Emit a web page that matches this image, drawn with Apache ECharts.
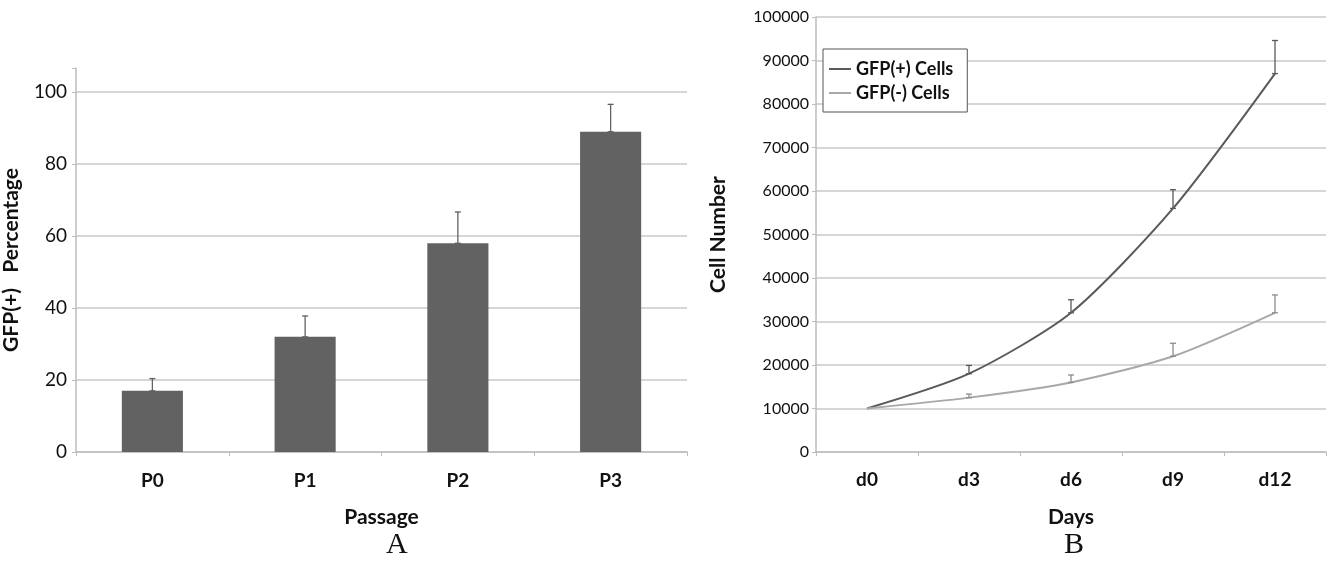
<!DOCTYPE html>
<html>
<head>
<meta charset="utf-8">
<script src="https://cdn.jsdelivr.net/npm/echarts@6/dist/echarts.min.js"></script>
<style>
  html, body { margin: 0; padding: 0; background: #fff; }
  #chart { width: 1330px; height: 568px; }
</style>
</head>
<body>
<div id="chart"></div>
<script>
// panel A
const passages = ['P0', 'P1', 'P2', 'P3'];
const gfpPercent = [17, 32, 58, 89];
const gfpPercentErr = [3.4, 5.8, 8.7, 7.6];

// panel B
const days = ['d0', 'd3', 'd6', 'd9', 'd12'];
const gfpPosCells = [10000, 18000, 32000, 56000, 87000];
const gfpPosErr = [0, 1900, 3000, 4300, 7600];
const gfpNegCells = [10000, 12500, 16000, 22000, 32000];
const gfpNegErr = [0, 800, 1700, 3000, 4100];

const FONT = 'Lato, "Open Sans", sans-serif';
const TXT = '#111';
const GRID_COLOR = '#c9c9c9';

function errData(vals, errs) {
    return vals.map((v, i) => [i, v, v + errs[i]]);
}

function errRender(color, cap) {
    return function (params, api) {
        const x = api.value(0);
        const lo = api.coord([x, api.value(1)]);
        const hi = api.coord([x, api.value(2)]);
        if (hi[1] >= lo[1] - 0.5) return null;
        const st = { stroke: color, lineWidth: 1.3 };
        return {
            type: 'group',
            children: [
                { type: 'line', shape: { x1: lo[0], y1: lo[1], x2: hi[0], y2: hi[1] }, style: st },
                { type: 'line', shape: { x1: hi[0] - cap, y1: hi[1], x2: hi[0] + cap, y2: hi[1] }, style: st },
                { type: 'line', shape: { x1: lo[0] - cap, y1: lo[1], x2: lo[0] + cap, y2: lo[1] }, style: st }
            ]
        };
    };
}

const chart = echarts.init(document.getElementById('chart'), null, { renderer: 'canvas' });

const option = {
    backgroundColor: '#fff',
    animation: false,
    textStyle: { fontFamily: FONT },
    grid: [
        { left: 74, right: 643, top: 68, bottom: 116 },
        { left: 816, right: 4, top: 17, bottom: 116 }
    ],
    legend: {
        data: [
            { name: 'GFP(+) Cells', itemStyle: { color: '#5a5a5a' } },
            { name: 'GFP(-) Cells', itemStyle: { color: '#a8a8a8' } }
        ],
        orient: 'vertical',
        left: 823,
        top: 49,
        icon: 'rect',
        itemWidth: 22,
        itemHeight: 2,
        itemGap: 6,
        padding: [11, 14, 10, 6],
        borderColor: '#555',
        borderWidth: 1,
        backgroundColor: '#fff',
        textStyle: { color: TXT, fontSize: 18, fontFamily: FONT, fontWeight: 'bold' }
    },
    xAxis: [
        {
            gridIndex: 0,
            type: 'category',
            data: passages,
            name: 'Passage',
            nameLocation: 'middle',
            nameGap: 55,
            nameTextStyle: { color: TXT, fontSize: 21, fontWeight: 'bold', fontFamily: FONT },
            axisLine: { lineStyle: { color: '#bdbdbd', width: 1.5 } },
            axisTick: { show: true, length: 4, lineStyle: { color: '#bdbdbd' } },
            axisLabel: { color: TXT, fontSize: 19, fontWeight: 'bold', margin: 19 }
        },
        {
            gridIndex: 1,
            type: 'category',
            data: days,
            name: 'Days',
            nameLocation: 'middle',
            nameGap: 55,
            nameTextStyle: { color: TXT, fontSize: 21, fontWeight: 'bold', fontFamily: FONT },
            axisLine: { lineStyle: { color: '#bdbdbd', width: 1.5 } },
            axisTick: { show: true, length: 4, lineStyle: { color: '#bdbdbd' } },
            axisLabel: { color: TXT, fontSize: 19, fontWeight: 'bold', margin: 18 }
        }
    ],
    yAxis: [
        {
            gridIndex: 0,
            type: 'value',
            min: 0,
            max: 106.7,
            interval: 20,
            name: 'GFP(+)   Percentage',
            nameLocation: 'middle',
            nameRotate: 90,
            nameGap: 54,
            nameTextStyle: { color: TXT, fontSize: 21, fontWeight: 'bold', fontFamily: FONT },
            axisLine: { show: true, lineStyle: { color: '#bdbdbd', width: 1.5 } },
            axisTick: { show: true, length: 4, lineStyle: { color: '#bdbdbd' } },
            axisLabel: {
                color: TXT, fontSize: 19, margin: 9,
                formatter: v => (v % 20 === 0 ? String(v) : '')
            },
            splitLine: { show: true, showMaxLine: false, lineStyle: { color: GRID_COLOR, width: 1.5 } }
        },
        {
            gridIndex: 1,
            type: 'value',
            min: 0,
            max: 100000,
            interval: 10000,
            name: 'Cell Number',
            nameLocation: 'middle',
            nameRotate: 90,
            nameGap: 87,
            nameTextStyle: { color: TXT, fontSize: 21, fontWeight: 'bold', fontFamily: FONT },
            axisLine: { show: true, lineStyle: { color: '#bdbdbd', width: 1.5 } },
            axisTick: { show: true, length: 4, lineStyle: { color: '#bdbdbd' } },
            axisLabel: { color: TXT, fontSize: 16, margin: 7, formatter: v => String(v) },
            splitLine: { show: true, lineStyle: { color: GRID_COLOR, width: 1.5 } }
        }
    ],
    series: [
        {
            name: 'GFP(+) %',
            type: 'bar',
            xAxisIndex: 0,
            yAxisIndex: 0,
            data: gfpPercent,
            barWidth: '40%',
            itemStyle: { color: '#626262' }
        },
        {
            type: 'custom',
            xAxisIndex: 0,
            yAxisIndex: 0,
            data: errData(gfpPercent, gfpPercentErr),
            renderItem: errRender('#626262', 3),
            z: 5
        },
        {
            name: 'GFP(+) Cells',
            type: 'line',
            xAxisIndex: 1,
            yAxisIndex: 1,
            data: gfpPosCells,
            smooth: 0.25,
            symbol: 'none',
            lineStyle: { color: '#5a5a5a', width: 2 },
            itemStyle: { color: '#5a5a5a' }
        },
        {
            type: 'custom',
            xAxisIndex: 1,
            yAxisIndex: 1,
            data: errData(gfpPosCells, gfpPosErr),
            renderItem: errRender('#5a5a5a', 3),
            z: 5
        },
        {
            name: 'GFP(-) Cells',
            type: 'line',
            xAxisIndex: 1,
            yAxisIndex: 1,
            data: gfpNegCells,
            smooth: 0.25,
            symbol: 'none',
            lineStyle: { color: '#a8a8a8', width: 2 },
            itemStyle: { color: '#a8a8a8' }
        },
        {
            type: 'custom',
            xAxisIndex: 1,
            yAxisIndex: 1,
            data: errData(gfpNegCells, gfpNegErr),
            renderItem: errRender('#8c8c8c', 3),
            z: 5
        }
    ],
    graphic: [
        {
            type: 'text',
            left: 386,
            top: 530,
            style: { text: 'A', fill: '#111', font: '30px "Liberation Serif", "DejaVu Serif", serif' }
        },
        {
            type: 'text',
            left: 1064,
            top: 530,
            style: { text: 'B', fill: '#111', font: '30px "Liberation Serif", "DejaVu Serif", serif' }
        }
    ]
};

chart.setOption(option);
window.addEventListener('resize', () => chart.resize());
</script>
</body>
</html>
